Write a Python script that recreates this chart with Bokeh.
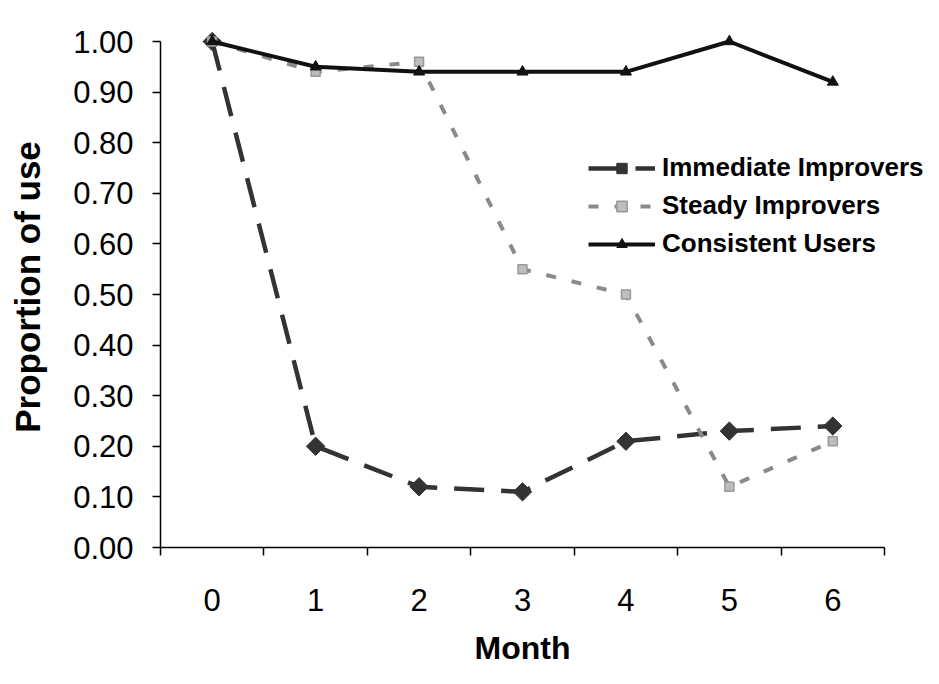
import numpy as np
from bokeh.plotting import figure
from bokeh.models import (Range1d, FixedTicker, PrintfTickFormatter, Legend, LegendItem, Title)
from bokeh.embed import file_html
from bokeh.resources import INLINE

# ---- data ----
months = [0, 1, 2, 3, 4, 5, 6]
immediate_improvers = [1.00, 0.20, 0.12, 0.11, 0.21, 0.23, 0.24]
steady_improvers = [1.00, 0.94, 0.96, 0.55, 0.50, 0.12, 0.21]
consistent_users = [1.00, 0.95, 0.94, 0.94, 0.94, 1.00, 0.92]
series_names = ["Immediate Improvers", "Steady Improvers", "Consistent Users"]
y_ticks = [0.0, 0.1, 0.2, 0.3, 0.4, 0.5, 0.6, 0.7, 0.8, 0.9, 1.0]
x_boundaries = [-0.5, 0.5, 1.5, 2.5, 3.5, 4.5, 5.5, 6.5]
x_title = "Month"
y_title = "Proportion of use"

FONT = "Liberation Sans"

p = figure(width=923, height=681, output_backend="svg", toolbar_location=None,
           x_range=Range1d(-0.5, 6.877), y_range=Range1d(0, 521 / 506),
           min_border_left=160, min_border_right=0, min_border_top=26,
           min_border_bottom=134)
p.outline_line_color = None
p.xgrid.visible = False
p.ygrid.visible = False
p.background_fill_color = "white"
p.border_fill_color = "white"

# ---- series ----
r1l = p.line(months, immediate_improvers, line_color="#333333", line_width=4.5,
             line_dash="30 17")
r1m = p.scatter(months, immediate_improvers, marker="square", angle=np.pi / 4,
                size=13, fill_color="#333333", line_color="#333333")
r2l = p.line(months, steady_improvers, line_color="#8a8a8a", line_width=4,
             line_dash="10 16")
r2m = p.scatter(months, steady_improvers, marker="square", size=9,
                fill_color="#bdbdbd", line_color="#999999", line_width=1.5)
r3l = p.line(months, consistent_users, line_color="#111111", line_width=4)
r3m = p.scatter(months, consistent_users, marker="triangle", size=11,
                fill_color="#111111", line_color="#111111")

# ---- axes ----
xa = p.xaxis[0]
xa.ticker = FixedTicker(ticks=months, minor_ticks=x_boundaries)
xa.bounds = (-0.5, 6.5)
xa.major_tick_out = 0
xa.major_tick_in = 0
xa.minor_tick_out = 8
xa.minor_tick_in = 0
xa.minor_tick_line_color = "black"
xa.minor_tick_line_width = 1.5
xa.axis_line_color = "black"
xa.axis_line_width = 1.5
xa.major_label_standoff = 33
xa.major_label_text_font = FONT
xa.major_label_text_font_size = "31px"
xa.major_label_text_color = "black"

# x title centred on the axis (not on the wider frame)
xt = Title(text=x_title, align="left", offset=314, standoff=28,
           text_font=FONT, text_font_style="bold", text_font_size="32px",
           text_color="black")
p.add_layout(xt, "below")

ya = p.yaxis[0]
ya.ticker = FixedTicker(ticks=y_ticks, minor_ticks=[])
ya.formatter = PrintfTickFormatter(format="%.2f")
ya.bounds = (0, 1)
ya.major_tick_out = 8
ya.major_tick_in = 0
ya.major_tick_line_color = "black"
ya.major_tick_line_width = 1.5
ya.minor_tick_out = 0
ya.minor_tick_in = 0
ya.axis_line_color = "black"
ya.axis_line_width = 1.5
ya.major_label_standoff = 19
ya.major_label_text_font = FONT
ya.major_label_text_font_size = "31px"
ya.major_label_text_color = "black"
ya.axis_label = y_title
ya.axis_label_text_font = FONT
ya.axis_label_text_font_style = "bold"
ya.axis_label_text_font_size = "35px"
ya.axis_label_text_color = "black"
ya.axis_label_standoff = 23

# ---- legend ----
legend = Legend(items=[
    LegendItem(label=series_names[0], renderers=[r1l, r1m]),
    LegendItem(label=series_names[1], renderers=[r2l, r2m]),
    LegendItem(label=series_names[2], renderers=[r3l, r3m]),
], location=(428, 288))
legend.glyph_width = 67
legend.glyph_height = 26
legend.label_standoff = 7
legend.spacing = 7
legend.padding = 0
legend.margin = 0
legend.border_line_color = None
legend.background_fill_alpha = 0
legend.label_text_font = FONT
legend.label_text_font_style = "bold"
legend.label_text_font_size = "26px"
legend.label_text_color = "black"
p.add_layout(legend)

open("out.html", "w").write(file_html(p, INLINE))
